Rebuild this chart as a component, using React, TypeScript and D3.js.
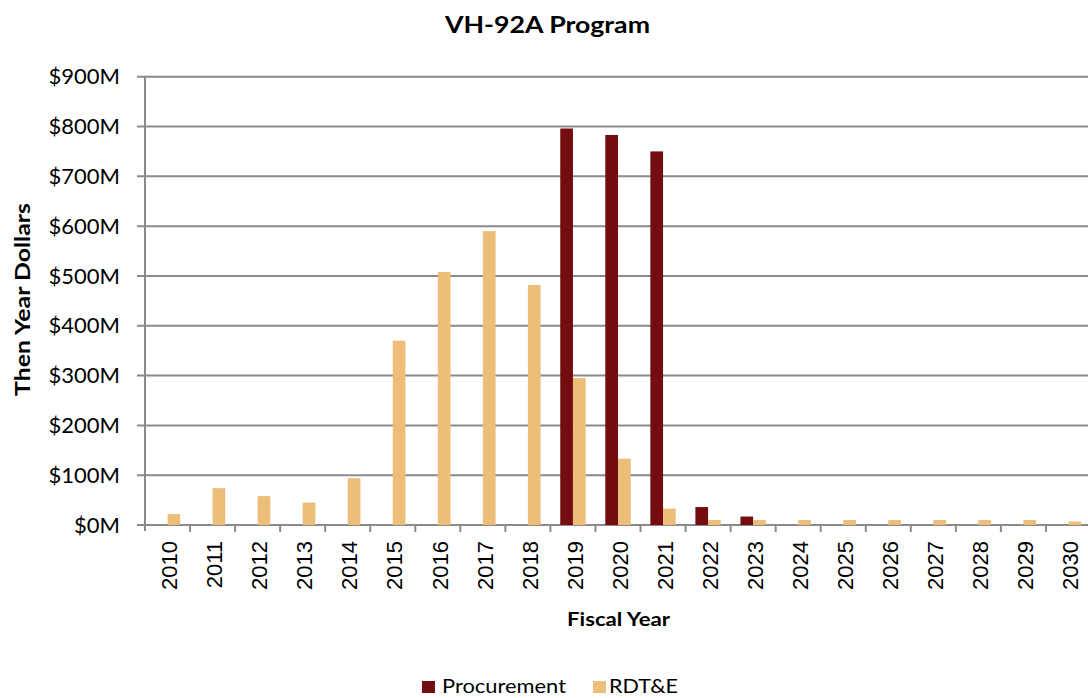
import React from "react";
import * as d3 from "d3";

const years = ["2010","2011","2012","2013","2014","2015","2016","2017","2018","2019","2020","2021","2022","2023","2024","2025","2026","2027","2028","2029","2030"];
const procurement = [0,0,0,0,0,0,0,0,0,796,783,750,36,17,0,0,0,0,0,0,0];
const rdte = [22,74,58,45,94,370,508,590,482,295,133,33,10,10,10,10,10,10,10,10,7];
const seriesNames = ["Procurement", "RDT&E"];
const seriesColors = ["#750D10", "#ECBE79"];
const yTicks = [0,100,200,300,400,500,600,700,800,900];

const W = 1088, H = 698;
const left = 145, right = 1091, top = 76.7, bottom = 525;
const FONT = "Lato, 'Open Sans', sans-serif";

export default function App() {
  const x0 = d3.scaleBand<string>().domain(years).range([left, right]).paddingInner(0).paddingOuter(0);
  const bw = x0.bandwidth();
  const x1 = d3.scaleBand<string>().domain(seriesNames).range([bw * 0.218, bw * 0.782]).padding(0);
  const y = d3.scaleLinear().domain([0, 900]).range([bottom, top]);
  const data = [procurement, rdte];
  const grid = "#8A8A8A";

  return (
    <svg width={W} height={H} style={{ position: "absolute", left: 0, top: 0, background: "#fff" }}>
      <text x={445} y={33} textLength={205} lengthAdjust="spacingAndGlyphs" fontFamily={FONT} fontWeight="bold" fontSize={22} fill="#000">VH-92A Program</text>
      {yTicks.map(t => (
        <g key={t}>
          <line x1={left - 8} x2={right} y1={y(t)} y2={y(t)} stroke={grid} strokeWidth={2} />
          <text x={120} y={y(t)} dy="0.35em" textAnchor="end" fontFamily={FONT} fontSize={22} fill="#000">{`$${t}M`}</text>
        </g>
      ))}
      <line x1={left} x2={left} y1={top} y2={bottom + 6} stroke={grid} strokeWidth={2} />
      {years.map((yr) => (
        <line key={yr} x1={x0(yr)! + bw} x2={x0(yr)! + bw} y1={bottom} y2={bottom + 7} stroke={grid} strokeWidth={2} />
      ))}
      {data.map((vals, si) =>
        vals.map((v, i) => v > 0 ? (
          <rect key={`${si}-${i}`} x={x0(years[i])! + x1(seriesNames[si])!} y={y(v)} width={x1.bandwidth()} height={y(0) - y(v)} fill={seriesColors[si]} />
        ) : null)
      )}
      {years.map(yr => {
        const cx = x0(yr)! + bw / 2 + 2;
        return (
          <text key={yr} transform={`translate(${cx},${541}) rotate(-90)`} textAnchor="end" dy="0.35em" fontFamily="'Liberation Sans', Arial, sans-serif" fontSize={22} fill="#000">{yr}</text>
        );
      })}
      <text transform={`translate(23,396) rotate(-90)`} dy="0.35em" textLength={193} lengthAdjust="spacingAndGlyphs" fontFamily={FONT} fontWeight="bold" fontSize={20} fill="#000">Then Year Dollars</text>
      <text x={567} y={626} textLength={103} lengthAdjust="spacingAndGlyphs" fontFamily={FONT} fontWeight="bold" fontSize={19} fill="#000">Fiscal Year</text>
      <rect x={422} y={681} width={13} height={12} fill={seriesColors[0]} />
      <text x={442} y={693} textLength={124} lengthAdjust="spacingAndGlyphs" fontFamily={FONT} fontSize={20} fill="#000">{seriesNames[0]}</text>
      <rect x={593} y={681} width={13} height={12} fill={seriesColors[1]} />
      <text x={609} y={693} textLength={69} lengthAdjust="spacingAndGlyphs" fontFamily={FONT} fontSize={20} fill="#000">{seriesNames[1]}</text>
    </svg>
  );
}
